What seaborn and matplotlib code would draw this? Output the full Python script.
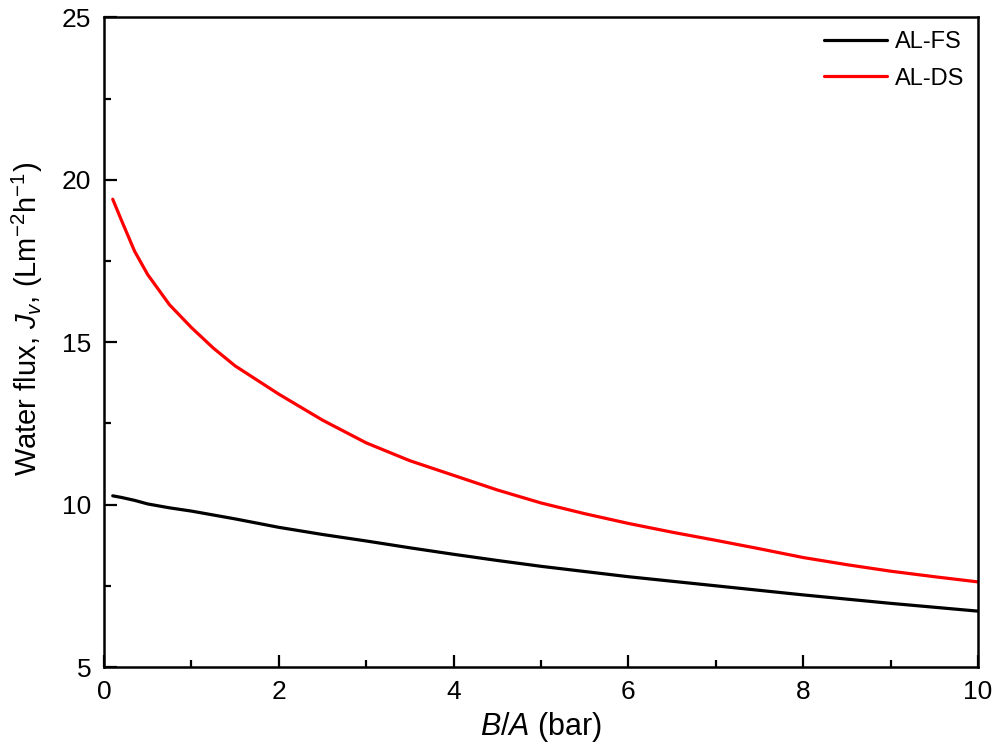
import numpy as np
import pandas as pd
import matplotlib
matplotlib.use("Agg")
import matplotlib.pyplot as plt
import seaborn as sns

# values
ba = [0.1, 0.2, 0.35, 0.5, 0.75, 1, 1.25, 1.5, 2, 2.5, 3, 3.5, 4, 4.5, 5, 5.5, 6, 6.5, 7, 7.5, 8, 8.5, 9, 9.5, 10]
flux_fs = [10.27, 10.22, 10.13, 10.02, 9.9, 9.8, 9.68, 9.56, 9.3, 9.08, 8.88, 8.67, 8.47, 8.28, 8.1, 7.94, 7.78, 7.64, 7.5, 7.36, 7.22, 7.09, 6.96, 6.84, 6.72]
flux_ds = [19.4, 18.75, 17.8, 17.08, 16.15, 15.45, 14.82, 14.27, 13.4, 12.6, 11.9, 11.35, 10.9, 10.45, 10.05, 9.72, 9.42, 9.15, 8.9, 8.64, 8.37, 8.15, 7.95, 7.78, 7.62]

df = pd.DataFrame({
    "x": ba + ba,
    "y": flux_fs + flux_ds,
    "series": ["AL-FS"] * len(ba) + ["AL-DS"] * len(ba),
})

sns.set_style("ticks")
plt.rcParams['font.family'] = ['Liberation Sans', 'DejaVu Sans']
plt.rcParams['mathtext.fontset'] = 'custom'
plt.rcParams['mathtext.rm'] = 'Liberation Sans'
plt.rcParams['mathtext.it'] = 'Liberation Sans:italic'
plt.rcParams['text.color'] = 'black'
plt.rcParams['axes.labelcolor'] = 'black'
plt.rcParams['xtick.color'] = 'black'
plt.rcParams['ytick.color'] = 'black'
plt.rcParams['axes.edgecolor'] = 'black'

fig = plt.figure(figsize=(9.97, 7.52), dpi=100)
ax = fig.add_axes([0.1043, 0.113, 0.8767, 0.864])

sns.lineplot(data=df, x="x", y="y", hue="series", palette={"AL-FS": "black", "AL-DS": "#ff0000"},
             linewidth=2.3, ax=ax)

ax.set_xlim(0, 10)
ax.set_ylim(5, 25)
ax.set_xticks([0, 2, 4, 6, 8, 10])
ax.set_yticks([5, 10, 15, 20, 25])
ax.xaxis.set_minor_locator(plt.MultipleLocator(1))
ax.yaxis.set_minor_locator(plt.MultipleLocator(2.5))
ax.tick_params(axis='both', which='major', direction='in', length=9, width=1.6, labelsize=19, pad=9)
ax.tick_params(axis='both', which='minor', direction='in', length=5, width=1.6)
for s in ax.spines.values():
    s.set_visible(True)
    s.set_linewidth(1.8)

ax.set_xlabel("$B/A$ (bar)", fontsize=22, labelpad=5)
ax.set_ylabel("Water flux, $J_v$, (Lm$^{-2}$h$^{-1}$)", fontsize=21)
ax.yaxis.set_label_coords(-0.068, 0.535)

leg = ax.legend(loc='upper right', frameon=False, fontsize=17, handlelength=2.7, handletextpad=0.3,
                labelspacing=0.6, borderaxespad=0.2)
leg.set_title(None)

fig.savefig("out.png", dpi=100)
